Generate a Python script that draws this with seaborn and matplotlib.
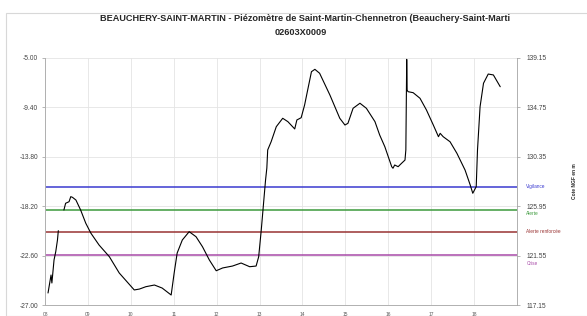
import pandas as pd
import seaborn as sns
import matplotlib.pyplot as plt
from matplotlib.patches import Rectangle

# niveaux (annee decimale, profondeur en m)
annees_1 = [2008.07, 2008.14, 2008.16, 2008.21, 2008.25, 2008.29, 2008.31]
niveaux_1 = [-25.93, -24.33, -25.04, -22.99, -22.25, -21.21, -20.38]

annees_2 = [2008.44, 2008.48, 2008.56, 2008.60, 2008.64, 2008.72, 2008.83, 2008.95,
            2009.07, 2009.26, 2009.50, 2009.73, 2010.08, 2010.20, 2010.35, 2010.55,
            2010.73, 2010.94, 2011.01, 2011.08, 2011.20, 2011.36, 2011.52, 2011.67,
            2011.83, 2011.99, 2012.14, 2012.37, 2012.57, 2012.77, 2012.92, 2012.98,
            2013.04, 2013.10, 2013.14, 2013.17, 2013.19, 2013.27, 2013.39, 2013.54,
            2013.66, 2013.82, 2013.87, 2013.97, 2014.05, 2014.13, 2014.21, 2014.29,
            2014.40, 2014.64, 2014.87, 2014.99, 2015.06, 2015.18, 2015.34, 2015.49,
            2015.69, 2015.80, 2015.92, 2016.08, 2016.11, 2016.15, 2016.23, 2016.31,
            2016.39, 2016.41, 2016.43, 2016.44, 2016.46, 2016.58, 2016.74, 2016.89,
            2017.05, 2017.17, 2017.21, 2017.28, 2017.44, 2017.60, 2017.79, 2017.91,
            2017.97, 2018.05, 2018.08, 2018.14, 2018.22, 2018.33, 2018.45, 2018.61]
niveaux_2 = [-18.54, -17.94, -17.80, -17.35, -17.41, -17.65, -18.54, -19.72,
             -20.61, -21.66, -22.70, -24.15, -25.66, -25.58, -25.37, -25.22,
             -25.49, -26.11, -24.15, -22.37, -21.21, -20.47, -20.92, -21.81,
             -22.99, -23.95, -23.70, -23.53, -23.26, -23.59, -23.53, -22.70,
             -20.32, -17.65, -15.87, -14.80, -13.19, -12.46, -11.12, -10.37,
             -10.67, -11.32, -10.52, -10.32, -9.19, -7.70, -6.22, -6.01,
             -6.36, -8.30, -10.37, -10.97, -10.82, -9.48, -9.03, -9.48,
             -10.67, -11.86, -12.90, -14.68, -14.82, -14.53, -14.68, -14.38,
             -14.09, -13.19, -5.12, -7.85, -8.00, -8.09, -8.59, -9.63,
             -10.97, -12.01, -11.71, -12.01, -12.46, -13.49, -14.98, -16.31,
             -17.05, -16.46, -13.19, -9.34, -7.25, -6.43, -6.51, -7.56]

seuils_noms = ["Vigilance", "Alerte", "Alerte renforcée", "Crise"]
seuils_valeurs = [-16.49, -18.51, -20.47, -22.55]
seuils_couleurs = ["#3a3ad0", "#3c9a3c", "#993333", "#a84aa8"]

yticks = [-27.00, -22.60, -18.20, -13.80, -9.40, -5.00]
decalage_ngf = 144.15
xticks = list(range(2008, 2019))
xlabels = ["08", "09", "10", "11", "12", "13", "14", "15", "16", "17", "18"]

df = pd.concat([
    pd.DataFrame({"annee": annees_1, "niveau": niveaux_1, "seg": 1}),
    pd.DataFrame({"annee": annees_2, "niveau": niveaux_2, "seg": 2}),
])

sns.set_style("white")
plt.rcParams["font.family"] = ["Liberation Sans", "DejaVu Sans"]

fig = plt.figure(figsize=(5.87, 3.16), dpi=100)
ax = fig.add_axes([0.0767, 0.0348, 0.804, 0.7817])

for v, c in zip(seuils_valeurs, seuils_couleurs):
    ax.axhline(v, color=c, lw=1.1, zorder=2)

sns.lineplot(data=df, x="annee", y="niveau", units="seg", estimator=None,
             color="black", lw=0.8, ax=ax, zorder=3)

ax.set_xlim(2008, 2019)
ax.set_ylim(-27, -5)
ax.set_xticks(xticks + [2019])
ax.set_xticklabels(xlabels + [""], fontsize=3.5, color="#555555")
ax.set_yticks(yticks)
ax.set_yticklabels([f"{v:.2f}" for v in yticks], fontsize=4.8, color="#444444")
ax.grid(True, color="#e4e4e4", lw=0.6)
ax.tick_params(axis="both", length=2, width=0.5, color="#999999", pad=3)
ax.set_xlabel("")
ax.set_ylabel("")
for s in ["left", "right", "bottom"]:
    ax.spines[s].set_color("#b0b0b0")
    ax.spines[s].set_linewidth(0.7)
ax.spines["top"].set_visible(False)

ax2 = ax.twinx()
ax2.set_ylim(-27 + decalage_ngf, -5 + decalage_ngf)
ax2.set_yticks([v + decalage_ngf for v in yticks])
ax2.set_yticklabels([f"{v + decalage_ngf:.2f}" for v in yticks], fontsize=4.8, color="#444444")
ax2.tick_params(axis="y", length=2, width=0.5, color="#999999", pad=5)
for s in ["left", "right", "bottom", "top"]:
    ax2.spines[s].set_visible(False)
ax2.set_ylabel("Cote NGF en m", fontsize=3.5, fontweight="bold", labelpad=18)

# libelles des seuils a droite de l'axe ("Alerte" et "Crise" glissent sous les graduations)
for nom, v, c in zip(seuils_noms, seuils_valeurs, seuils_couleurs):
    y = (v + 27) / 22
    va = "center"
    if nom == "Crise":
        y -= 0.025
        va = "top"
    elif nom == "Alerte":
        y -= 0.007
        va = "top"
    ax.text(1.02, y, nom, transform=ax.transAxes, fontsize=3.4,
            color=c, va=va, ha="left")

fig.text(0.52, 0.943, "BEAUCHERY-SAINT-MARTIN - Piézomètre de Saint-Martin-Chennetron (Beauchery-Saint-Marti",
         ha="center", va="center", fontsize=6.6, fontweight="bold")
fig.text(0.513, 0.897, "02603X0009", ha="center", va="center", fontsize=6.6, fontweight="bold")

fig.add_artist(Rectangle((0.011, 0.0), 0.99, 0.958, transform=fig.transFigure,
                         fill=False, ec="#d8d8d8", lw=0.8))

fig.savefig("out.png", dpi=100)
